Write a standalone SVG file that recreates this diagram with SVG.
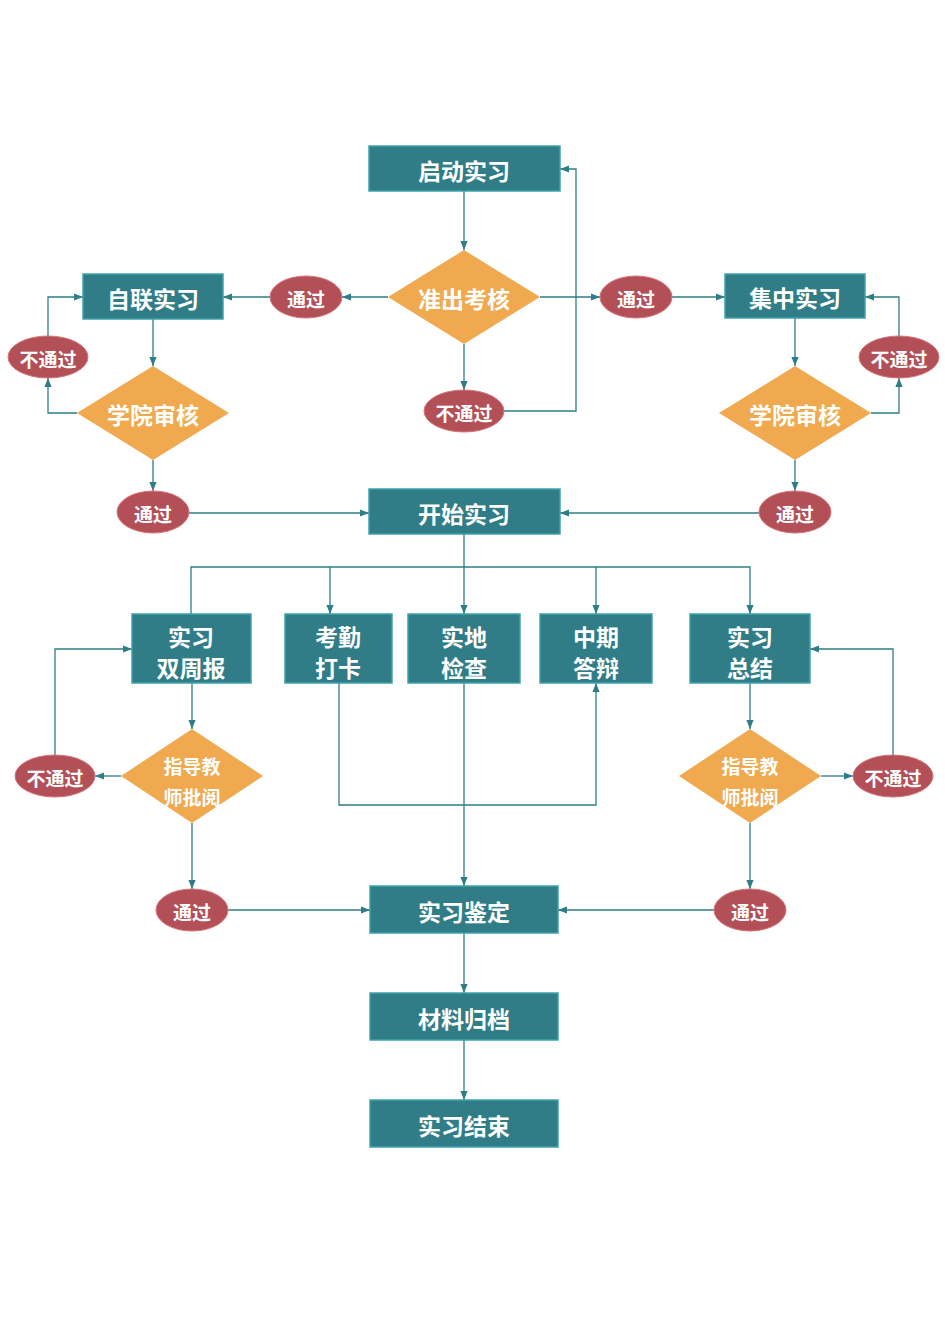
<svg xmlns="http://www.w3.org/2000/svg" width="945" height="1338" viewBox="0 0 945 1338">
<style>
.b{fill:#307d87;stroke:#3fa3ad;stroke-width:1.5}
.d{fill:#f0a94e}
.e{fill:#b34f57;stroke:#d5767c;stroke-width:1}
text{font-family:"Noto Sans CJK SC",sans-serif;font-weight:bold;fill:#fff;text-anchor:middle;dominant-baseline:central}
.t{font-size:23px}
.s{font-size:19px}
.c{fill:none;stroke:#2e7d87;stroke-width:1.3}
</style>
<defs><marker id="a" viewBox="0 0 10 10" refX="10" refY="5" markerWidth="7" markerHeight="7" orient="auto"><path d="M0,1 L10,5 L0,9 z" fill="#2e7d87"/></marker></defs>
<rect width="945" height="1338" fill="#fff"/>
<g id="connectors" class="c" marker-end="url(#a)">
<path d="M464,191 V250"/>
<path d="M388,297 H342"/>
<path d="M270,297 H223"/>
<path d="M540,297 H600"/>
<path d="M672,297 H725"/>
<path d="M464,344 V390"/>
<path d="M504,411 H576 V169 H560"/>
<path d="M153,319 V366"/>
<path d="M77,413 H48 V378"/>
<path d="M48,336 V297 H83"/>
<path d="M153,460 V491"/>
<path d="M189,513 H369"/>
<path d="M795,318 V366"/>
<path d="M871,413 H899 V378"/>
<path d="M899,336 V297 H865"/>
<path d="M795,460 V491"/>
<path d="M759,513 H560"/>
<path d="M464,534 V567 H191 V614" marker-end="none"/>
<path d="M330,567 V614"/>
<path d="M464,567 V614"/>
<path d="M464,567 H596 V614"/>
<path d="M596,567 H750 V614"/>
<path d="M192,683 V729"/>
<path d="M121,776 H95"/>
<path d="M55,755 V649 H132"/>
<path d="M192,823 V889"/>
<path d="M228,910 H370"/>
<path d="M339,683 V805 H596 V683"/>
<path d="M464,683 V886"/>
<path d="M750,683 V729"/>
<path d="M821,776 H853"/>
<path d="M893,755 V649 H810"/>
<path d="M750,823 V889"/>
<path d="M714,910 H558"/>
<path d="M464,933 V993"/>
<path d="M464,1040 V1100"/>
</g>
<g id="n1"><rect class="b" x="369" y="146" width="191" height="45"/><text class="t" x="464" y="170">启动实习</text></g>
<g id="n2"><path class="d" d="M464,250 L540,297 L464,344 L388,297z"/><text class="t" x="464" y="298">准出考核</text></g>
<g id="n3"><ellipse class="e" cx="306" cy="297" rx="36" ry="21"/><text class="s" x="306" y="298">通过</text></g>
<g id="n4"><ellipse class="e" cx="636" cy="297" rx="36" ry="21"/><text class="s" x="636" y="298">通过</text></g>
<g id="n5"><ellipse class="e" cx="464" cy="411" rx="40" ry="21"/><text class="s" x="464" y="412">不通过</text></g>
<g id="n6"><rect class="b" x="83" y="274" width="140" height="45"/><text class="t" x="153" y="298">自联实习</text></g>
<g id="n7"><rect class="b" x="725" y="274" width="140" height="44"/><text class="t" x="795" y="297">集中实习</text></g>
<g id="n8"><path class="d" d="M153,366 L229,413 L153,460 L77,413z"/><text class="t" x="153" y="414">学院审核</text></g>
<g id="n9"><path class="d" d="M795,366 L871,413 L795,460 L719,413z"/><text class="t" x="795" y="414">学院审核</text></g>
<g id="n10"><ellipse class="e" cx="48" cy="357" rx="40" ry="21"/><text class="s" x="48" y="358">不通过</text></g>
<g id="n11"><ellipse class="e" cx="899" cy="357" rx="40" ry="21"/><text class="s" x="899" y="358">不通过</text></g>
<g id="n12"><ellipse class="e" cx="153" cy="512" rx="36" ry="21"/><text class="s" x="153" y="513">通过</text></g>
<g id="n13"><ellipse class="e" cx="795" cy="512" rx="36" ry="21"/><text class="s" x="795" y="513">通过</text></g>
<g id="n14"><rect class="b" x="369" y="489" width="191" height="45"/><text class="t" x="464" y="513">开始实习</text></g>
<g id="n15"><rect class="b" x="132" y="614" width="119" height="69"/><text class="t" x="191" y="636">实习</text><text class="t" x="191" y="667">双周报</text></g>
<g id="n16"><rect class="b" x="285" y="614" width="107" height="69"/><text class="t" x="338" y="636">考勤</text><text class="t" x="338" y="667">打卡</text></g>
<g id="n17"><rect class="b" x="408" y="614" width="112" height="69"/><text class="t" x="464" y="636">实地</text><text class="t" x="464" y="667">检查</text></g>
<g id="n18"><rect class="b" x="540" y="614" width="112" height="69"/><text class="t" x="596" y="636">中期</text><text class="t" x="596" y="667">答辩</text></g>
<g id="n19"><rect class="b" x="690" y="614" width="120" height="69"/><text class="t" x="750" y="636">实习</text><text class="t" x="750" y="667">总结</text></g>
<g id="n20"><path class="d" d="M192,729 L263,776 L192,823 L121,776z"/><text class="s" x="192" y="765">指导教</text><text class="s" x="192" y="796">师批阅</text></g>
<g id="n21"><path class="d" d="M750,729 L821,776 L750,823 L679,776z"/><text class="s" x="750" y="765">指导教</text><text class="s" x="750" y="796">师批阅</text></g>
<g id="n22"><ellipse class="e" cx="55" cy="776" rx="40" ry="21"/><text class="s" x="55" y="777">不通过</text></g>
<g id="n23"><ellipse class="e" cx="893" cy="776" rx="40" ry="21"/><text class="s" x="893" y="777">不通过</text></g>
<g id="n24"><ellipse class="e" cx="192" cy="910" rx="36" ry="21"/><text class="s" x="192" y="911">通过</text></g>
<g id="n25"><ellipse class="e" cx="750" cy="910" rx="36" ry="21"/><text class="s" x="750" y="911">通过</text></g>
<g id="n26"><rect class="b" x="370" y="886" width="188" height="47"/><text class="t" x="464" y="911">实习鉴定</text></g>
<g id="n27"><rect class="b" x="370" y="993" width="188" height="47"/><text class="t" x="464" y="1018">材料归档</text></g>
<g id="n28"><rect class="b" x="370" y="1100" width="188" height="47"/><text class="t" x="464" y="1125">实习结束</text></g>
</svg>
